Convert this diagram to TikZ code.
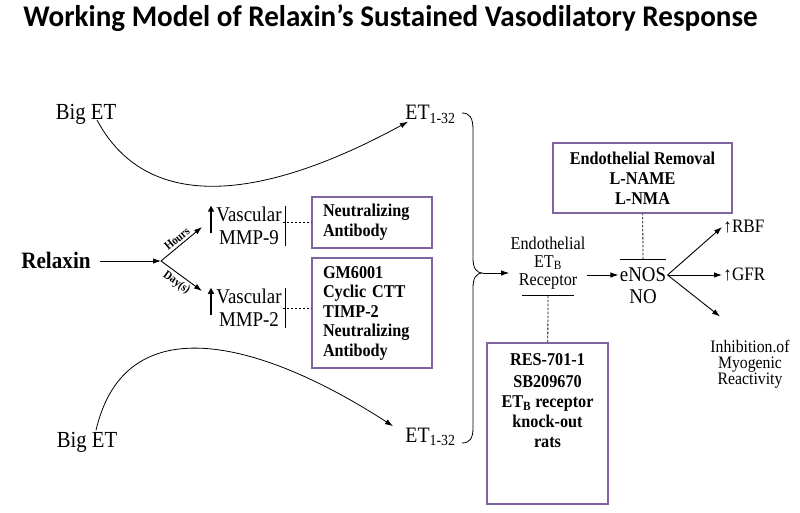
\documentclass[tikz,border=0pt]{standalone}
\usepackage{fontspec}
\setmainfont{Liberation Serif}[FakeStretch=0.9]
\newfontfamily\titlefont{Carlito}[FakeStretch=0.97]
\usetikzlibrary{arrows.meta}
\definecolor{boxpurple}{RGB}{128,100,162}
\newcommand{\fsz}[2]{\fontsize{#1}{#2}\selectfont}
\tikzset{
  every node/.style={inner sep=1pt},
  pbox/.style={draw=boxpurple, line width=2pt, inner sep=0pt},
  btxt/.style={font=\fsz{18}{20}\bfseries},
  inhib/.style={dash pattern=on 2.5pt off 1.5pt, line width=0.8pt},
  uparr/.style={-{Triangle[length=6pt,width=6pt]}, line width=2pt},
  lbl/.style={font=\fsz{12}{12}\bfseries, inner sep=2.5pt},
}
\begin{document}
\begin{tikzpicture}[x=1pt,y=-1pt,line width=0.9pt,>={Latex[length=8pt,width=5.5pt]}]
\useasboundingbox (0,0) rectangle (800,513);
\node[anchor=base west, inner sep=0pt, font=\titlefont\fsz{30}{32}\bfseries] (title) at (23,27) {Working Model of Relaxin’s Sustained Vasodilatory Response};
% big endothelin to ET 1-32
\node[anchor=base, font=\fsz{23}{24}] (bigtop) at (86,120) {Big ET};
\node[anchor=base, font=\fsz{23}{24}] (bigbot) at (87,447) {Big ET};
\node[anchor=base west, font=\fsz{22}{24}] (ettop) at (404,120) {ET\textsubscript{1-32}};
\node[anchor=base west, font=\fsz{22}{24}] (etbot) at (404,442) {ET\textsubscript{1-32}};
\draw[->, line width=0.8pt] ([xshift=11pt]bigtop.base) .. controls (145,210) and (255,205) .. ([xshift=4pt,yshift=3pt]ettop.south west);
\draw[->, line width=0.8pt] ([xshift=9pt]bigbot.north) .. controls (125,305) and (260,340) .. ([xshift=-11pt]etbot.north west);
% relaxin and MMPs
\node[anchor=base, font=\fsz{23.5}{24}\bfseries] (relaxin) at (56,268) {Relaxin};
\coordinate (branch) at (161,261);
\coordinate (hrs) at (202,227);
\coordinate (dys) at (202,291);
\draw[->, shorten <=8pt] (relaxin.east |- branch) -- (branch);
\draw[->] (branch) -- node[sloped, above, lbl] (hrslbl) {Hours} (hrs);
\draw[->] (branch) -- node[sloped, below, lbl] (dyslbl) {Day(s)} (dys);
\node[align=center, font=\fsz{21}{23}] (mmp9) at (249,226) {Vascular\\MMP-9};
\node[align=center, font=\fsz{21}{23}] (mmp2) at (249,308) {Vascular\\MMP-2};
\foreach \m in {mmp9,mmp2} {
  \draw[uparr] ([xshift=-4pt,yshift=-27pt]\m.north west) -- ([xshift=-4pt]\m.north west);
  \draw[line width=0.8pt] ([xshift=2pt]\m.north east) -- ([xshift=2pt]\m.south east);
}
\node[pbox, btxt, minimum width=120pt, minimum height=51pt, text width=98pt, align=left] (nab) at (372,222.5) {Neutralizing\\Antibody};
\node[pbox, btxt, minimum width=120pt, minimum height=110pt, text width=98pt, align=left, font=\fsz{18}{19.5}\bfseries] (gm) at (372,313) {GM6001\\Cyclic CTT\\TIMP-2\\Neutralizing\\Antibody};
\draw[inhib] (nab.west -| mmp9.east) -- (nab.west);
\draw[inhib] (mmp2.east) -- (mmp2.east -| gm.west);
% receptor
\coordinate (cusp) at (483,273);
\draw[line width=0.8pt] (462,113) .. controls (470,113) and (473,118) .. (473,130) -- (473,258) .. controls (473,268) and (476,273) .. (cusp) .. controls (476,273) and (473,278) .. (473,288) -- (473,428) .. controls (473,438) and (470,443) .. (462,443);
\node[align=center, font=\fsz{18}{18}] (etb) at (548,263) {Endothelial\\ET\textsubscript{B}\\Receptor};
\draw[->] (cusp) -- (cusp -| etb.west);
\node[pbox, minimum width=121pt, minimum height=161pt] (res) at (547.5,423.5) {};
\node[btxt, anchor=north, align=center, inner sep=0pt] (restxt) at ([yshift=-11pt]res.north) {RES-701-1\\[2pt]SB209670\\ET\textsubscript{B} receptor\\knock-out\\rats};
\draw ([xshift=-26pt,yshift=-5pt]etb.south) -- ([xshift=26pt,yshift=-5pt]etb.south);
\draw[inhib] ([yshift=-5pt]etb.south) -- (res);
% eNOS
\node[font=\fsz{21}{23}] (enos) at (643,275) {eNOS};
\node[font=\fsz{21}{23}] (no) at (643,297) {NO};
\draw[->] (etb.east |- enos) -- (enos);
\node[pbox, btxt, align=center, minimum width=179pt, minimum height=70pt] (rem) at (642.5,178) {Endothelial Removal\\L-NAME\\L-NMA};
\draw ([xshift=-23pt,yshift=7pt]enos.north) -- ([xshift=23pt,yshift=7pt]enos.north);
\draw[inhib] ([yshift=7pt]enos.north) -- (rem);
% responses
\node[anchor=base west, font=\fsz{19}{20}] (rbf) at (722,233) {↑RBF};
\node[anchor=base west, font=\fsz{19}{20}] (gfr) at (722,280) {↑GFR};
\node[align=center, font=\fsz{17.5}{16}] (inh) at (750,364) {Inhibition.of\\Myogenic\\Reactivity};
\draw[->] (enos.east) -- (rbf.west);
\draw[->] (enos.east) -- (gfr.west |- enos.east);
\draw[->] (enos.east) -- ([xshift=-30pt,yshift=22pt]inh.north);
\end{tikzpicture}
\end{document}
